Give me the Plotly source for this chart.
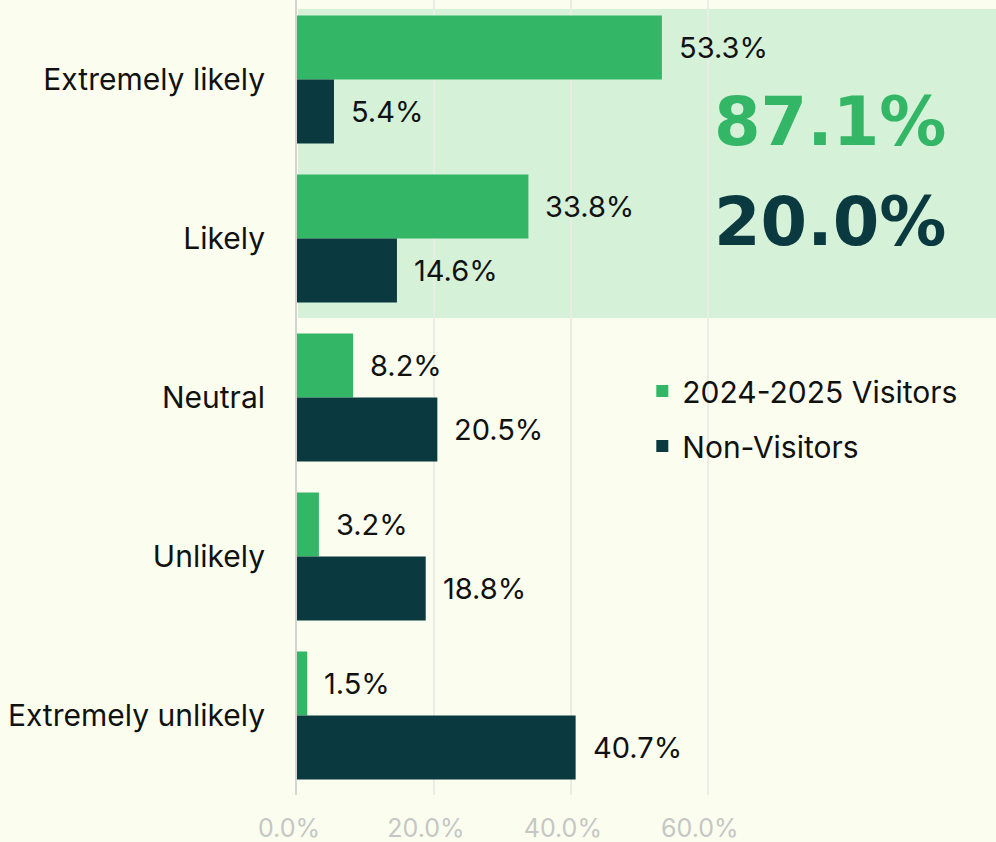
import plotly.graph_objects as go

categories = ["Extremely likely", "Likely", "Neutral", "Unlikely", "Extremely unlikely"]
visitors = [53.3, 33.8, 8.2, 3.2, 1.5]
non_visitors = [5.4, 14.6, 20.5, 18.8, 40.7]
series_names = ["2024-2025 Visitors", "Non-Visitors"]
tick_vals = [0, 20, 40, 60]
tick_text = ["0.0%", "20.0%", "40.0%", "60.0%"]
highlight_values = ["87.1%", "20.0%"]

GREEN = "#33B666"
DARK = "#0B3940"
BG = "#FBFEEE"
HL = "#D5F2D8"
FONT = "Inter"

fig = go.Figure()
fig.add_trace(go.Bar(y=categories, x=visitors, orientation="h", name=series_names[0],
                     marker=dict(color=GREEN, line=dict(width=0)), legendgroup="a"))
fig.add_trace(go.Bar(y=categories, x=non_visitors, orientation="h", name=series_names[1],
                     marker=dict(color=DARK, line=dict(width=0)), legendgroup="b"))

# value labels
for i, c in enumerate(categories):
    fig.add_annotation(x=visitors[i], y=i, xref="x", yref="y", text=f"{visitors[i]:.1f}%",
                       showarrow=False, xanchor="left", yanchor="middle", xshift=15, yshift=32,
                       font=dict(family=FONT, size=29, color="#111111"))
    fig.add_annotation(x=non_visitors[i], y=i, xref="x", yref="y", text=f"{non_visitors[i]:.1f}%",
                       showarrow=False, xanchor="left", yanchor="middle", xshift=15, yshift=-32,
                       font=dict(family=FONT, size=29, color="#111111"))

# highlight area
fig.add_shape(type="rect", xref="x", yref="y", x0=0.15, x1=102.1, y0=-0.443, y1=1.5,
              fillcolor=HL, line=dict(width=0), layer="below")

fig.add_annotation(x=60.6, y=0.267, xref="x", yref="y", text="<b>" + highlight_values[0] + "</b>",
                   showarrow=False, xanchor="left", yanchor="middle",
                   font=dict(family="DejaVu Sans", size=67, color=GREEN))
fig.add_annotation(x=60.6, y=0.896, xref="x", yref="y", text="<b>" + highlight_values[1] + "</b>",
                   showarrow=False, xanchor="left", yanchor="middle",
                   font=dict(family="DejaVu Sans", size=67, color=DARK))

fig.update_layout(
    width=996, height=842,
    margin=dict(l=297, r=0, t=0, b=47),
    paper_bgcolor=BG, plot_bgcolor=BG,
    barmode="group", bargap=0.195, bargroupgap=0,
    font=dict(family=FONT, size=30, color="#111111"),
    legend=dict(x=0.494, y=0.541, xanchor="left", yanchor="top", bgcolor="rgba(0,0,0,0)",
                traceorder="grouped", tracegroupgap=13, font=dict(family=FONT, size=30, color="#111111"),
                itemwidth=30),
    showlegend=True,
)
fig.update_xaxes(range=[0, 102.1], tickvals=tick_vals, ticktext=tick_text, showgrid=True,
                 gridcolor="#ECECE6", gridwidth=2, zeroline=False, showline=False,
                 tickfont=dict(family=FONT, size=25, color="#C6C6C6"), ticks="", ticklabelstandoff=16,
                 ticklabelshift=-8)
fig.update_yaxes(autorange="reversed", showline=True, linecolor="#D4D4D0", linewidth=2,
                 ticks="", ticklabelstandoff=24, tickfont=dict(family=FONT, size=30, color="#111111"),
                 showgrid=False)

fig.write_html("out.html", config={"displayModeBar": False},
               post_script="document.body.style.margin='0';document.body.style.overflow='hidden';")
